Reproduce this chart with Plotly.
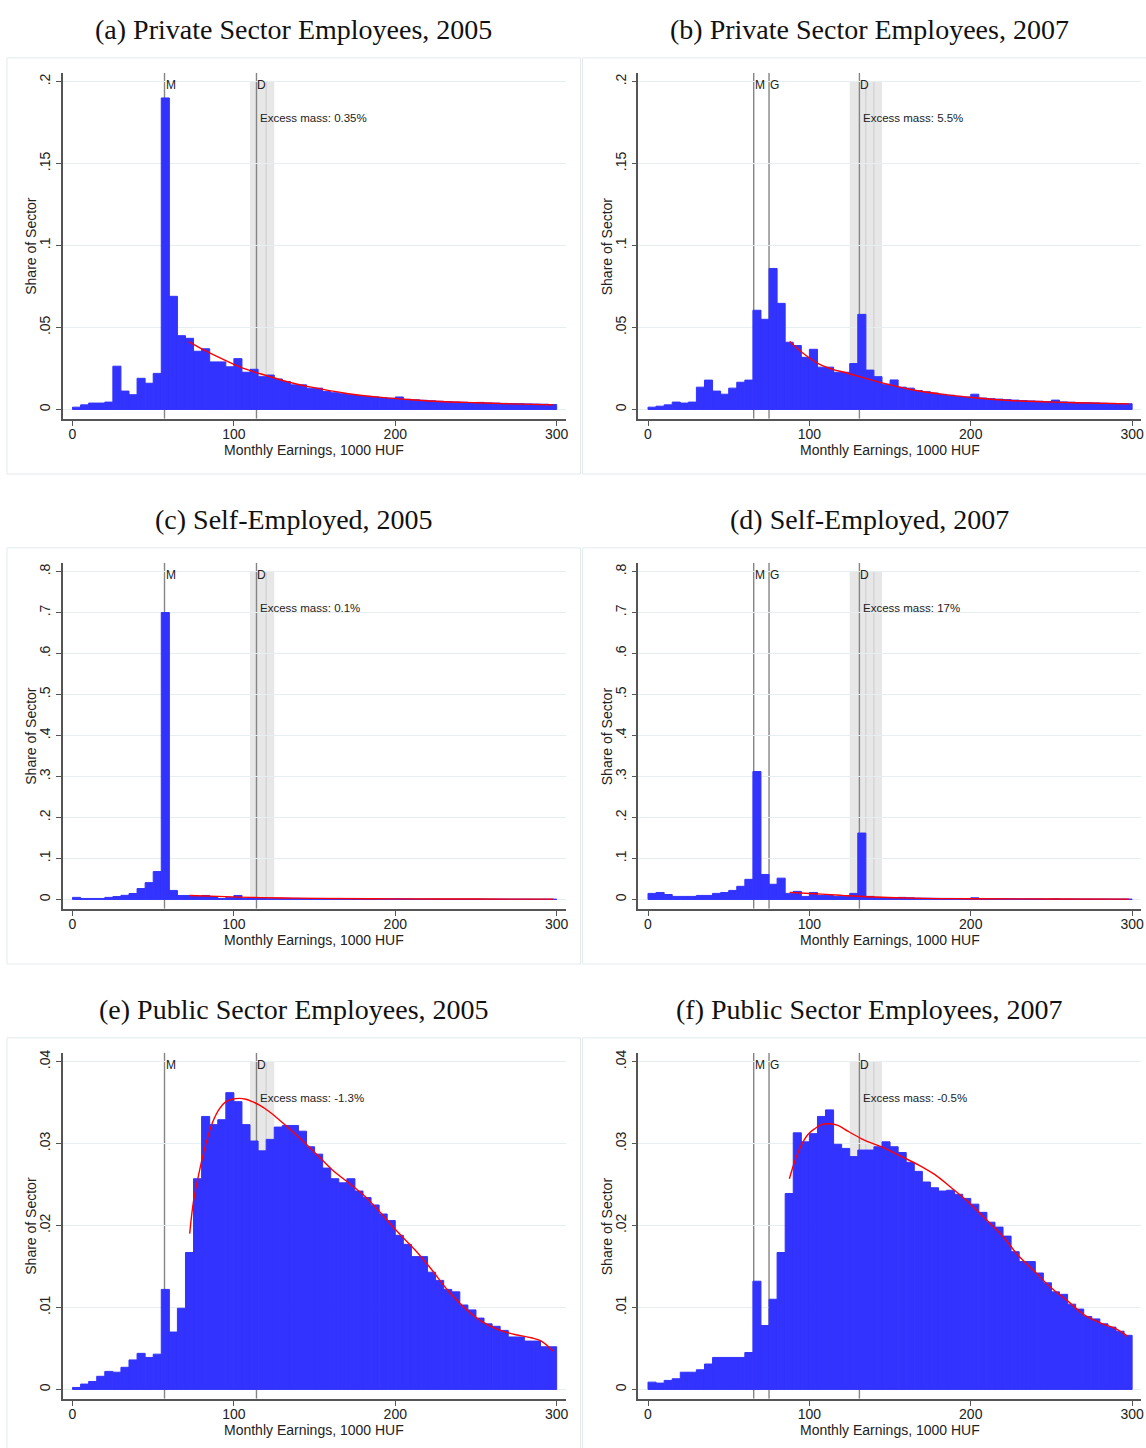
import plotly.graph_objects as go

# ---------------- data ----------------
BIN_LEFT = list(range(0, 300, 5))   # 5-thousand-HUF bins, 0..300
BIN_WIDTH = 5

PRIV_2005 = [0.0014, 0.0028, 0.0039, 0.0039, 0.0045, 0.0264, 0.0112, 0.0090, 0.0190, 0.0160,
             0.0220, 0.1900, 0.0690, 0.0450, 0.0434, 0.0355, 0.0370, 0.0290, 0.0290, 0.0260,
             0.0310, 0.0227, 0.0245, 0.0200, 0.0210, 0.0186, 0.0170, 0.0150, 0.0150, 0.0130,
             0.0130, 0.0110, 0.0102, 0.0096, 0.0090, 0.0085, 0.0080, 0.0076, 0.0072, 0.0068,
             0.0076, 0.0062, 0.0059, 0.0056, 0.0053, 0.0050, 0.0048, 0.0046, 0.0044, 0.0042,
             0.0043, 0.0040, 0.0039, 0.0037, 0.0036, 0.0035, 0.0034, 0.0033, 0.0032, 0.0030]

PRIV_2007 = [0.0014, 0.0020, 0.0028, 0.0045, 0.0039, 0.0045, 0.0136, 0.0179, 0.0112, 0.0093,
             0.0130, 0.0166, 0.0179, 0.0605, 0.0550, 0.0860, 0.0647, 0.0410, 0.0390, 0.0318,
             0.0367, 0.0258, 0.0258, 0.0227, 0.0227, 0.0280, 0.0580, 0.0240, 0.0200, 0.0154,
             0.0180, 0.0136, 0.0130, 0.0115, 0.0108, 0.0100, 0.0092, 0.0087, 0.0080, 0.0076,
             0.0093, 0.0070, 0.0066, 0.0063, 0.0060, 0.0057, 0.0054, 0.0052, 0.0050, 0.0048,
             0.0057, 0.0046, 0.0044, 0.0042, 0.0041, 0.0040, 0.0038, 0.0037, 0.0036, 0.0035]

SELF_2005 = [0.0050, 0.0024, 0.0024, 0.0024, 0.0050, 0.0070, 0.0100, 0.0145, 0.0266, 0.0410,
             0.0680, 0.7000, 0.0220, 0.0097, 0.0097, 0.0070, 0.0097, 0.0070, 0.0024, 0.0050,
             0.0097, 0.0024, 0.0035, 0.0035, 0.0032, 0.0032, 0.0030, 0.0028, 0.0026, 0.0024,
             0.0024, 0.0022, 0.0021, 0.0020, 0.0019, 0.0018, 0.0017, 0.0016, 0.0015, 0.0015,
             0.0018, 0.0014, 0.0013, 0.0013, 0.0012, 0.0012, 0.0011, 0.0011, 0.0010, 0.0010,
             0.0011, 0.0009, 0.0009, 0.0009, 0.0008, 0.0008, 0.0008, 0.0007, 0.0007, 0.0007]

SELF_2007 = [0.0148, 0.0170, 0.0120, 0.0074, 0.0074, 0.0074, 0.0098, 0.0098, 0.0148, 0.0170,
             0.0220, 0.0320, 0.0490, 0.3120, 0.0610, 0.0370, 0.0520, 0.0148, 0.0197, 0.0074,
             0.0170, 0.0098, 0.0098, 0.0074, 0.0074, 0.0148, 0.1620, 0.0074, 0.0050, 0.0035,
             0.0035, 0.0050, 0.0040, 0.0032, 0.0030, 0.0028, 0.0026, 0.0025, 0.0024, 0.0022,
             0.0040, 0.0020, 0.0019, 0.0018, 0.0017, 0.0016, 0.0015, 0.0015, 0.0014, 0.0013,
             0.0016, 0.0012, 0.0012, 0.0011, 0.0011, 0.0010, 0.0010, 0.0009, 0.0009, 0.0009]

PUBL_2005 = [0.00024, 0.00065, 0.00097, 0.0016, 0.0022, 0.0021, 0.0027, 0.0036, 0.0044, 0.0039,
             0.0043, 0.0122, 0.0070, 0.0099, 0.0167, 0.0257, 0.0333, 0.0323, 0.0329, 0.0362,
             0.0351, 0.0323, 0.0303, 0.0291, 0.0305, 0.0320, 0.0322, 0.0322, 0.0315, 0.0296,
             0.0287, 0.0270, 0.0257, 0.0252, 0.0257, 0.0242, 0.0234, 0.0225, 0.0214, 0.0206,
             0.0188, 0.0177, 0.0162, 0.0162, 0.0143, 0.0133, 0.0122, 0.0119, 0.0103, 0.0097,
             0.0087, 0.0080, 0.0077, 0.0072, 0.0064, 0.0064, 0.0059, 0.0059, 0.0052, 0.0052]

PUBL_2007 = [0.00089, 0.00077, 0.0011, 0.0013, 0.0021, 0.0021, 0.0024, 0.0031, 0.0039, 0.0039,
             0.0039, 0.0039, 0.0045, 0.0132, 0.0078, 0.0110, 0.0167, 0.0239, 0.0313, 0.0302,
             0.0312, 0.0333, 0.0341, 0.0299, 0.0294, 0.0284, 0.0292, 0.0292, 0.0296, 0.0302,
             0.0296, 0.0289, 0.0277, 0.0266, 0.0253, 0.0246, 0.0242, 0.0243, 0.0238, 0.0233,
             0.0226, 0.0216, 0.0204, 0.0198, 0.0187, 0.0168, 0.0156, 0.0156, 0.0142, 0.0130,
             0.0119, 0.0116, 0.0104, 0.0098, 0.0089, 0.0086, 0.0080, 0.0076, 0.0071, 0.0066]

# fitted counterfactual densities (red lines)
FIT_A_X = [72, 82.5, 95, 107, 120, 132, 148, 169, 190, 210, 231, 251, 272, 298]
FIT_A_Y = [0.0414, 0.0357, 0.0298, 0.0247, 0.0207, 0.0172, 0.0136, 0.0099, 0.0075, 0.0059,
           0.0047, 0.0041, 0.0034, 0.0028]
FIT_B_X = [87.8, 95.3, 105.8, 115.9, 121.6, 142, 163, 183, 204, 224.5, 245, 265.6, 298]
FIT_B_Y = [0.0414, 0.0349, 0.0278, 0.0240, 0.0227, 0.0170, 0.0122, 0.0092, 0.0070, 0.0055,
           0.0047, 0.0041, 0.0034]
FIT_C_X = [72.4, 90, 110, 130, 152, 200, 250, 298]
FIT_C_Y = [0.0097, 0.0075, 0.0050, 0.0035, 0.0025, 0.0015, 0.0010, 0.0007]
FIT_D_X = [87.8, 100, 107.4, 120, 136, 171, 200, 250, 298]
FIT_D_Y = [0.0172, 0.0145, 0.0130, 0.0100, 0.0066, 0.0025, 0.0018, 0.0012, 0.0008]
FIT_E_X = [72.6, 75, 78.6, 82.7, 86.8, 90.9, 95.1, 99.1, 103.3, 107.4, 111.5, 115.6, 121.8, 128,
           136.2, 144.4, 152.7, 160.9, 181.5, 202, 212.3, 222.6, 232.9, 243.2, 253.5, 263.8,
           274.1, 284.3, 290.5, 297.7]
FIT_E_Y = [0.0190, 0.0230, 0.0266, 0.0300, 0.0326, 0.0342, 0.0351, 0.0354, 0.0355, 0.0354,
           0.0351, 0.0347, 0.0339, 0.0329, 0.0315, 0.0300, 0.0284, 0.0268, 0.0235, 0.0191,
           0.0170, 0.0146, 0.0120, 0.0099, 0.0083, 0.0073, 0.0067, 0.0063, 0.0059, 0.0047]
FIT_F_X = [87.6, 90.9, 95, 99.1, 103.3, 107.4, 112.5, 117.7, 123.8, 132.1, 136.6, 146.9, 157.2,
           167.5, 177.8, 188, 198.3, 208.6, 218.9, 229.2, 239.5, 249.8, 260, 270.3, 280.6,
           290.9, 297]
FIT_F_Y = [0.0257, 0.0278, 0.0298, 0.0311, 0.0318, 0.0323, 0.0324, 0.0322, 0.0315, 0.0306,
           0.0302, 0.0294, 0.0284, 0.0274, 0.0262, 0.0246, 0.0229, 0.0209, 0.0189, 0.0164,
           0.0144, 0.0124, 0.0108, 0.0091, 0.0081, 0.0073, 0.0065]

# thresholds (1000 HUF): minimum wage M, guaranteed minimum G, double minimum D
LINES_2005 = {"M": 57, "D": 114}
LINES_2007 = {"M": 65.5, "G": 75, "D": 131}
BAND_2005 = [110, 125]
BAND_2007 = [125, 145]
BAND_INNER_2005 = [120]
BAND_INNER_2007 = [135, 140]

X_TICKS = [0, 100, 200, 300]
Y_TICKS_PRIV = [0, 0.05, 0.1, 0.15, 0.2]
Y_TEXT_PRIV = ["0", ".05", ".1", ".15", ".2"]
Y_TICKS_SELF = [0, 0.1, 0.2, 0.3, 0.4, 0.5, 0.6, 0.7, 0.8]
Y_TEXT_SELF = ["0", ".1", ".2", ".3", ".4", ".5", ".6", ".7", ".8"]
Y_TICKS_PUBL = [0, 0.01, 0.02, 0.03, 0.04]
Y_TEXT_PUBL = ["0", ".01", ".02", ".03", ".04"]

TITLES = ["(a) Private Sector Employees, 2005", "(b) Private Sector Employees, 2007",
          "(c) Self-Employed, 2005", "(d) Self-Employed, 2007",
          "(e) Public Sector Employees, 2005", "(f) Public Sector Employees, 2007"]
EXCESS = ["Excess mass: 0.35%", "Excess mass: 5.5%", "Excess mass: 0.1%",
          "Excess mass: 17%", "Excess mass: -1.3%", "Excess mass: -0.5%"]
X_TITLE = "Monthly Earnings, 1000 HUF"
Y_TITLE = "Share of Sector"

# ---------------- layout ----------------
W, H = 1146, 1448
BOX_LEFT = [7, 584]
BOX_W = 575
BOX_TOP0 = 55
BOX_H = 417
ROW_PITCH = 491
PLOT_DX, PLOT_W = 56, 504
PLOT_DY, PLOT_H = 15, 346.7

BAR_COLOR = "#3333ff"
AXIS_COLOR = "#555555"
GRID_COLOR = "#e6eef0"
SANS = "Liberation Sans, Arial, sans-serif"
SERIF = "Liberation Serif, Times New Roman, serif"


def pxx(p):
    return p / W


def pxy(p):
    return 1 - p / H


panels = [
    (PRIV_2005, FIT_A_X, FIT_A_Y, 0.2, Y_TICKS_PRIV, Y_TEXT_PRIV, LINES_2005, BAND_2005, BAND_INNER_2005),
    (PRIV_2007, FIT_B_X, FIT_B_Y, 0.2, Y_TICKS_PRIV, Y_TEXT_PRIV, LINES_2007, BAND_2007, BAND_INNER_2007),
    (SELF_2005, FIT_C_X, FIT_C_Y, 0.8, Y_TICKS_SELF, Y_TEXT_SELF, LINES_2005, BAND_2005, BAND_INNER_2005),
    (SELF_2007, FIT_D_X, FIT_D_Y, 0.8, Y_TICKS_SELF, Y_TEXT_SELF, LINES_2007, BAND_2007, BAND_INNER_2007),
    (PUBL_2005, FIT_E_X, FIT_E_Y, 0.04, Y_TICKS_PUBL, Y_TEXT_PUBL, LINES_2005, BAND_2005, BAND_INNER_2005),
    (PUBL_2007, FIT_F_X, FIT_F_Y, 0.04, Y_TICKS_PUBL, Y_TEXT_PUBL, LINES_2007, BAND_2007, BAND_INNER_2007),
]

fig = go.Figure()
shapes = []
annotations = []
layout_axes = {}

bin_centers = [b + BIN_WIDTH / 2 for b in BIN_LEFT]

for i, (bars, fx, fy, top, yt, ytt, lines, band, inner) in enumerate(panels):
    row, col = divmod(i, 2)
    n = i + 1
    xa = "x" if n == 1 else f"x{n}"
    ya = "y" if n == 1 else f"y{n}"
    box_left = BOX_LEFT[col]
    box_top = BOX_TOP0 + ROW_PITCH * row
    pl = box_left + PLOT_DX
    pt = box_top + PLOT_DY
    ybot = -0.0286 * top

    layout_axes["xaxis" if n == 1 else f"xaxis{n}"] = dict(
        domain=[pxx(pl), pxx(pl + PLOT_W)], anchor=ya, range=[-6, 305.5],
        tickvals=X_TICKS, ticktext=[str(v) for v in X_TICKS], ticks="outside", ticklen=5,
        tickwidth=1.2, tickcolor=AXIS_COLOR, showline=True, linecolor=AXIS_COLOR, linewidth=1.6,
        showgrid=False, zeroline=False, ticklabelstandoff=-3,
        tickfont=dict(family=SANS, size=14, color="#222"), fixedrange=True)
    layout_axes["yaxis" if n == 1 else f"yaxis{n}"] = dict(
        domain=[pxy(pt + PLOT_H), pxy(pt)], anchor=xa, range=[ybot, 1.0265 * top],
        tickvals=yt, ticktext=ytt, tickangle=-90, ticks="outside", ticklen=5, tickwidth=1.2,
        tickcolor=AXIS_COLOR, showline=True, linecolor=AXIS_COLOR, linewidth=1.6,
        showgrid=True, gridcolor=GRID_COLOR, gridwidth=1.2, zeroline=False,
        tickfont=dict(family=SANS, size=14, color="#222"), fixedrange=True)

    # shaded band and its inner lines
    shapes.append(dict(type="rect", xref=xa, yref=ya, x0=band[0], x1=band[1], y0=0, y1=top,
                       fillcolor="#e7e7e7", line=dict(width=0), layer="below"))
    for v in inner:
        shapes.append(dict(type="line", xref=xa, yref=ya, x0=v, x1=v, y0=0, y1=top,
                           line=dict(color="#cdcdcd", width=1), layer="below"))
    for lab, v in lines.items():
        shapes.append(dict(type="line", xref=xa, yref=ya, x0=v, x1=v, y0=ybot, y1=1.0265 * top,
                           line=dict(color="#858585", width=1.4), layer="below"))
        annotations.append(dict(x=v, y=0.99 * top, xref=xa, yref=ya, text=lab, showarrow=False,
                                xanchor="left", yanchor="middle", xshift=-1,
                                font=dict(family=SANS, size=12, color="#222")))
    annotations.append(dict(x=lines["D"] + 1.0, y=0.888 * top, xref=xa, yref=ya, text=EXCESS[i],
                            showarrow=False, xanchor="left", yanchor="middle",
                            font=dict(family=SANS, size=11.5, color="#222")))

    fig.add_trace(go.Bar(x=bin_centers, y=bars, width=BIN_WIDTH, xaxis=xa, yaxis=ya,
                         marker=dict(color=BAR_COLOR, line=dict(color=BAR_COLOR, width=1)),
                         showlegend=False, hoverinfo="skip"))
    fig.add_trace(go.Scatter(x=fx, y=fy, xaxis=xa, yaxis=ya, mode="lines",
                             line=dict(color="#ff0000", width=1.4, shape="spline"),
                             showlegend=False, hoverinfo="skip"))

    # panel frame
    shapes.append(dict(type="rect", xref="paper", yref="paper", x0=pxx(box_left),
                       x1=pxx(box_left + BOX_W), y0=pxy(box_top + BOX_H), y1=pxy(box_top),
                       line=dict(color="#e2eaec", width=1), fillcolor="rgba(0,0,0,0)",
                       layer="below"))
    # title
    annotations.append(dict(x=pxx(box_left + BOX_W / 2), y=pxy(box_top - 28), xref="paper",
                            yref="paper", text=TITLES[i], showarrow=False, xanchor="center",
                            yanchor="middle", font=dict(family=SERIF, size=28, color="#111")))
    # axis titles
    annotations.append(dict(x=pxx(pl + PLOT_W / 2), y=pxy(box_top + 393), xref="paper",
                            yref="paper", text=X_TITLE, showarrow=False, xanchor="center",
                            yanchor="middle", font=dict(family=SANS, size=14, color="#222")))
    annotations.append(dict(x=pxx(box_left + 24), y=pxy(pt + PLOT_H / 2), xref="paper",
                            yref="paper", text=Y_TITLE, showarrow=False, textangle=-90,
                            xanchor="center", yanchor="middle",
                            font=dict(family=SANS, size=14, color="#222")))

fig.update_layout(width=W, height=H, autosize=False, margin=dict(l=0, r=0, t=0, b=0),
                  paper_bgcolor="white", plot_bgcolor="white", barmode="overlay",
                  shapes=shapes, annotations=annotations, showlegend=False, **layout_axes)

fig.write_html("out.html", config={"displayModeBar": False},
               post_script="document.body.style.margin='0';document.body.style.overflow='hidden';")
